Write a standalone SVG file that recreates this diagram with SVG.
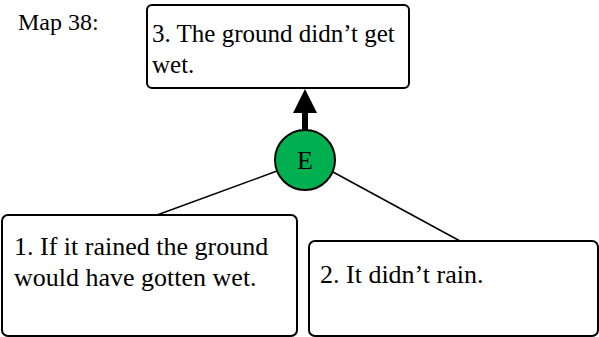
<svg xmlns="http://www.w3.org/2000/svg" width="599" height="337" viewBox="0 0 599 337">
<style>
.box{fill:#fff;stroke:#000;stroke-width:2}
.t{font-family:"Liberation Serif","Times New Roman",serif;font-size:26px;fill:#000}
.ln{stroke:#000;stroke-width:1.5;fill:none}
</style>
<rect width="599" height="337" fill="#fff"/>
<text class="t" x="18" y="30" style="font-size:24px">Map 38:</text>
<g id="connectors">
<line class="ln" x1="277" y1="171" x2="157" y2="215"/>
<line class="ln" x1="333" y1="172" x2="460" y2="241"/>
<line x1="305" y1="130" x2="305" y2="112" stroke="#000" stroke-width="6"/>
<polygon points="305,89 293,113 317,113" fill="#000"/>
</g>
<g id="node3">
<rect class="box" x="147" y="5" width="262" height="83" rx="5"/>
<text class="t" x="152" y="42" style="font-size:25px">3. The ground didn’t get</text>
<text class="t" x="152" y="73" style="font-size:25px">wet.</text>
</g>
<g id="nodeE">
<circle cx="305" cy="160" r="30" fill="#00b050" stroke="#000" stroke-width="2"/>
<text class="t" x="305" y="169" text-anchor="middle">E</text>
</g>
<g id="node1">
<rect class="box" x="2" y="215" width="295" height="121" rx="6"/>
<text class="t" x="14" y="255">1. If it rained the ground</text>
<text class="t" x="14" y="286">would have gotten wet.</text>
</g>
<g id="node2">
<rect class="box" x="309" y="241" width="289" height="95" rx="6"/>
<text class="t" x="320" y="283">2. It didn’t rain.</text>
</g>
</svg>
